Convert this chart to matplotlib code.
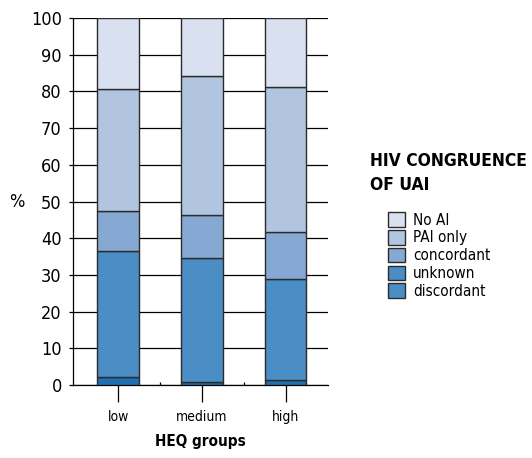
import matplotlib
matplotlib.use('Agg')
import matplotlib.pyplot as plt
from matplotlib.patches import Patch
import numpy as np

plt.rcParams['font.family'] = ['DejaVu Sans']
plt.rcParams['font.stretch'] = 'condensed'

groups = ['low', 'medium', 'high']
categories = ['discordant', 'unknown', 'concordant', 'PAI only', 'No AI']
# stacked tops, turned into segment sizes
discordant = [2.1, 1.0, 1.5]
unknown = [34.4, 33.6, 27.4]
concordant = [11.0, 11.8, 12.8]
pai_only = [33.1, 37.7, 39.5]
no_ai = [19.4, 15.9, 18.8]
series = [discordant, unknown, concordant, pai_only, no_ai]
colors = ['#1f6fb1', '#4b8dc5', '#85a9d3', '#b1c5e1', '#d9e0ef']
legend_colors = ['#4b8dc5', '#4b8dc5', '#85a9d3', '#b1c5e1', '#d9e0ef']

fig = plt.figure(figsize=(5.32, 4.58), dpi=100)
ax = fig.add_axes([0.137, 0.159, 0.48, 0.802])

x = np.arange(len(groups))
bottom = np.zeros(len(groups))
for vals, c in zip(series, colors):
    ax.bar(x, vals, 0.5, bottom=bottom, color=c, edgecolor='#2b2b2b',
           linewidth=1.0, zorder=3)
    bottom += np.array(vals)

ax.set_ylim(0, 100)
ax.set_xlim(-0.54, 2.51)
ax.set_yticks(range(0, 101, 10))
ax.yaxis.grid(True, color='black', linewidth=0.9, zorder=0)
ax.set_axisbelow(True)
for s in ['top', 'right']:
    ax.spines[s].set_visible(False)
ax.spines['left'].set_linewidth(0.9)
ax.spines['bottom'].set_linewidth(0.9)
ax.tick_params(axis='y', length=3, width=0.9, labelsize=13, pad=5)
ax.set_xticks(x)
ax.set_xticklabels(groups)
ax.tick_params(axis='x', length=12, width=0.9, labelsize=10, pad=6)
ax.set_xticks([0.5, 1.5], minor=True)
ax.tick_params(axis='x', which='minor', length=2, direction='in', width=0.9)
ax.set_xlabel('HEQ groups', fontsize=11, fontweight='bold', labelpad=7)
ax.set_ylabel('%', fontsize=13, rotation=0, labelpad=10, va='center')

fig.text(0.695, 0.668, 'HIV CONGRUENCE\nOF UAI', fontsize=12.5,
         fontweight='bold', va='top', ha='left', linespacing=1.45)
handles = [Patch(facecolor=c, edgecolor='#2b2b2b', linewidth=1.0)
           for c in legend_colors[::-1]]
fig.legend(handles, categories[::-1], loc='upper left',
           bbox_to_anchor=(0.729, 0.537), frameon=False, fontsize=11,
           borderpad=0, borderaxespad=0,
           handlelength=1.1, handleheight=1.1, handletextpad=0.55,
           labelspacing=0.15)

fig.savefig('out.png', dpi=100)
